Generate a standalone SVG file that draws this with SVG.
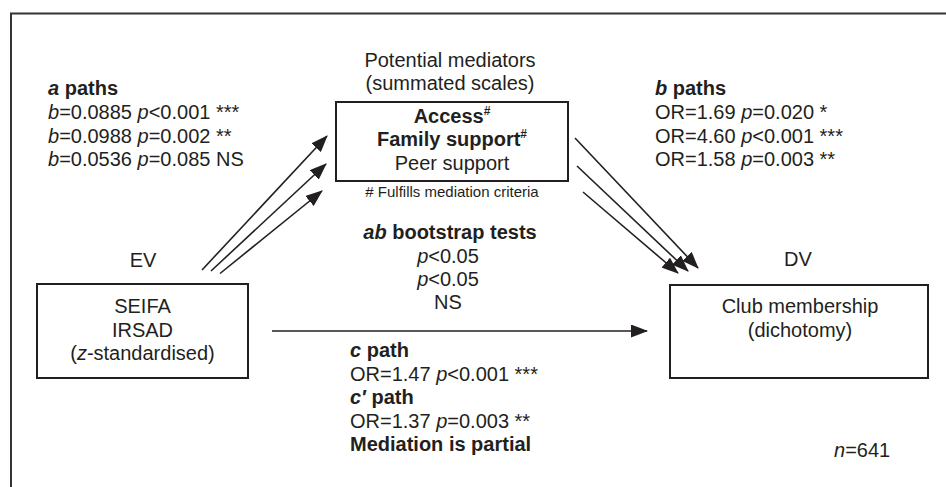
<svg xmlns="http://www.w3.org/2000/svg" width="946" height="487" viewBox="0 0 946 487">
<defs>
<style>
text{font-family:"Liberation Sans",Arial,Helvetica,sans-serif;font-size:20px;fill:#231f20}
.b{font-weight:bold}
.i{font-style:italic}
.bi{font-weight:bold;font-style:italic}
.sm{font-size:15px}
.sup{font-size:12px;font-weight:bold}
.c{text-anchor:middle}
.box{fill:#fff;stroke:#231f20;stroke-width:2}
.ln{stroke:#231f20;stroke-width:1.6;fill:none;marker-end:url(#ah)}
</style>
<marker id="ah" markerWidth="17" markerHeight="13" refX="16" refY="6.5" orient="auto" markerUnits="userSpaceOnUse">
<path d="M0,0 L17,6.5 L0,13 z" fill="#231f20"/>
</marker>
</defs>
<rect width="946" height="487" fill="#fff"/>
<path d="M11,487 V13.5 H946" fill="none" stroke="#333" stroke-width="2"/>

<g id="connectors">
<line class="ln" x1="202" y1="270" x2="327" y2="136"/>
<line class="ln" x1="211" y1="271" x2="326" y2="164"/>
<line class="ln" x1="220" y1="273.5" x2="322" y2="191"/>
<line class="ln" x1="575" y1="138" x2="698" y2="268"/>
<line class="ln" x1="577" y1="166" x2="688" y2="271"/>
<line class="ln" x1="583" y1="192" x2="678" y2="273"/>
<line class="ln" x1="272" y1="331" x2="647" y2="331"/>
</g>

<g id="a-paths">
<text x="48" y="95" class="b"><tspan class="bi">a</tspan> paths</text>
<text x="48" y="119"><tspan class="i">b</tspan>=0.0885 <tspan class="i">p</tspan>&lt;0.001 ***</text>
<text x="48" y="142.5"><tspan class="i">b</tspan>=0.0988 <tspan class="i">p</tspan>=0.002 **</text>
<text x="48" y="166"><tspan class="i">b</tspan>=0.0536 <tspan class="i">p</tspan>=0.085 NS</text>
</g>

<g id="mediators">
<text x="450" y="67" class="c">Potential mediators</text>
<text x="450" y="90" class="c">(summated scales)</text>
<rect class="box" x="336" y="102" width="232" height="79"/>
<text x="452" y="123" class="c b">Access<tspan class="sup" dy="-8">#</tspan></text>
<text x="452" y="146" class="c b">Family support<tspan class="sup" dy="-8">#</tspan></text>
<text x="452" y="169.5" class="c">Peer support</text>
<text x="452" y="197" class="c sm"># Fulfills mediation criteria</text>
</g>

<g id="b-paths">
<text x="655" y="95" class="b"><tspan class="bi">b</tspan> paths</text>
<text x="655" y="119">OR=1.69 <tspan class="i">p</tspan>=0.020 *</text>
<text x="655" y="142.5">OR=4.60 <tspan class="i">p</tspan>&lt;0.001 ***</text>
<text x="655" y="166">OR=1.58 <tspan class="i">p</tspan>=0.003 **</text>
</g>

<g id="ab-tests">
<text x="450" y="239" class="c b"><tspan class="bi">ab</tspan> bootstrap tests</text>
<text x="448" y="263" class="c"><tspan class="i">p</tspan>&lt;0.05</text>
<text x="448" y="286" class="c"><tspan class="i">p</tspan>&lt;0.05</text>
<text x="448" y="309" class="c">NS</text>
</g>

<g id="ev">
<text x="143" y="267" class="c">EV</text>
<rect class="box" x="37" y="284" width="211" height="94"/>
<text x="142.5" y="313" class="c">SEIFA</text>
<text x="142.5" y="336.5" class="c">IRSAD</text>
<text x="142.5" y="360" class="c">(<tspan class="i">z</tspan>-standardised)</text>
</g>

<g id="dv">
<text x="798" y="266" class="c">DV</text>
<rect class="box" x="670" y="285" width="258" height="93"/>
<text x="800" y="313" class="c">Club membership</text>
<text x="800" y="336.5" class="c">(dichotomy)</text>
</g>

<g id="c-paths">
<text x="350" y="357" class="b"><tspan class="bi">c</tspan> path</text>
<text x="350" y="380.5">OR=1.47 <tspan class="i">p</tspan>&lt;0.001 ***</text>
<text x="350" y="404" class="b"><tspan class="bi">c′</tspan> path</text>
<text x="350" y="427.5">OR=1.37 <tspan class="i">p</tspan>=0.003 **</text>
<text x="350" y="451" class="b">Mediation is partial</text>
</g>

<g id="n">
<text x="834" y="457"><tspan class="i">n</tspan>=641</text>
</g>
</svg>
